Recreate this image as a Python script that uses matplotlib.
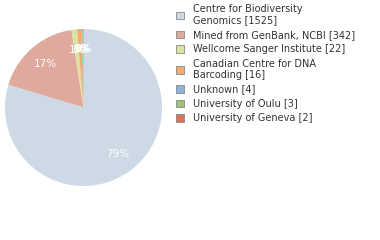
import matplotlib
matplotlib.use("Agg")
import matplotlib.pyplot as plt
from matplotlib.patches import Patch

labels = [
    "Centre for Biodiversity\nGenomics [1525]",
    "Mined from GenBank, NCBI [342]",
    "Wellcome Sanger Institute [22]",
    "Canadian Centre for DNA\nBarcoding [16]",
    "Unknown [4]",
    "University of Oulu [3]",
    "University of Geneva [2]",
]
counts = [1525, 342, 22, 16, 4, 3, 2]
colors = ["#cddae6", "#e0a99e", "#dbe3a0", "#f0aa72", "#8fb4da", "#9cc47c", "#d9735c"]

fig = plt.figure(figsize=(3.8, 2.4), dpi=100)
ax = fig.add_axes([5 / 380, 54 / 240, 157 / 380, 157 / 240])

wedges, texts, autotexts = ax.pie(
    counts, colors=colors, startangle=90, counterclock=False,
    autopct=lambda p: "%d%%" % int(p), pctdistance=0.74,
    wedgeprops=dict(linewidth=0), textprops=dict(color="white", fontsize=7.5),
)
ax.set_aspect("equal")
ax.set_xlim(-1, 1)
ax.set_ylim(-1, 1)

handles = [Patch(facecolor=c, edgecolor="#888888", linewidth=0.6) for c in colors]
fig.legend(
    handles, labels, loc="upper left", bbox_to_anchor=(172 / 380, 1),
    frameon=False, fontsize=7, handlelength=0.8, handleheight=0.8,
    handletextpad=1.0, labelspacing=0.45, labelcolor="#333333",
    borderaxespad=0.2, borderpad=0.2,
)

fig.savefig("out.png", dpi=100)
